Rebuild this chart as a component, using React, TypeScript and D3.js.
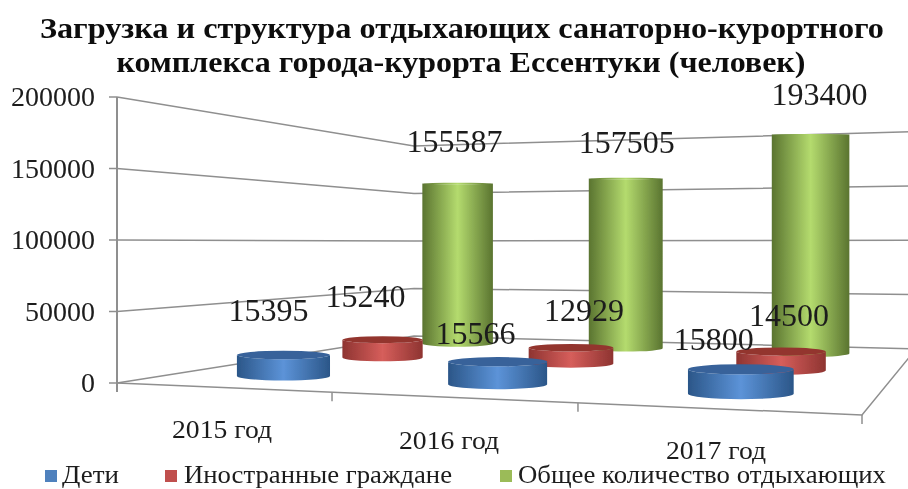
import React from "react";
import * as d3 from "d3";

const titleLines = ["Загрузка и структура отдыхающих санаторно-курортного", "комплекса города-курорта Ессентуки (человек)"];
const categories = ["2015 год", "2016 год", "2017 год"];
const seriesNames = ["Дети", "Иностранные граждане", "Общее количество отдыхающих"];
const children = [15395, 15566, 15800];
const foreigners = [15240, 12929, 14500];
const total = [155587, 157505, 193400];
const seriesValues = [children, foreigners, total];
const axisTicks = [0, 50000, 100000, 150000, 200000];

// ---- layout only ----
const W = 908, H = 489;
const floor = { fl: [117, 383], fr: [862, 415], br: [916, 349], bl: [414, 336] };
const axisPx = 286;
const horizonY = 120, tiltDiv = 2600;
const baseWidth = 98;
const palette = [
  { dark: "#2b5688", light: "#5c93d8", top: "#37629a", key: "#4f81bd" },
  { dark: "#8e3431", light: "#d65e5b", top: "#93352f", key: "#c0504d" },
  { dark: "#5a7430", light: "#b4db6e", top: null, key: "#9bbb59" },
];
// label centre, from the top of its cylinder
const labelNudge = [
  [[-15, -45], [-22, -29], [-27, -30]],
  [[-17, -44], [13, -38], [8, -37]],
  [[-3, -42], [1, -37], [9, -41]],
];
const catLabelPos = [[222, 430], [449, 441], [716, 451]];
const legendItems = [
  { sx: 45, tx: 62, tw: 57 },
  { sx: 165, tx: 184, tw: 268 },
  { sx: 500, tx: 518, tw: 368 },
];
const serif = "'Liberation Serif','Times New Roman',serif";

// homography: unit floor square -> screen
function makeProjection() {
  const [x0, y0] = floor.fl, [x1, y1] = floor.fr, [x2, y2] = floor.br, [x3, y3] = floor.bl;
  const dx1 = x1 - x2, dx2 = x3 - x2, sx = x0 - x1 + x2 - x3;
  const dy1 = y1 - y2, dy2 = y3 - y2, sy = y0 - y1 + y2 - y3;
  const den = dx1 * dy2 - dx2 * dy1;
  const g = (sx * dy2 - dx2 * sy) / den;
  const h = (dx1 * sy - sx * dy1) / den;
  const a = x1 - x0 + g * x1, b = x3 - x0 + h * x3;
  const d = y1 - y0 + g * y1, e = y3 - y0 + h * y3;
  return (u: number, v: number) => {
    const w = 1 + g * u + h * v;
    return { x: (a * u + b * v + x0) / w, y: (d * u + e * v + y0) / w, w };
  };
}
const project = makeProjection();
const valueHeight = d3.scaleLinear().domain([0, 200000]).range([0, axisPx]);
const uScale = d3.scaleBand<number>().domain([0, 1, 2]).range([0, 1]);
const vScale = d3.scaleBand<number>().domain([0, 1, 2]).range([0, 1]);
const heightAt = (value: number, w: number) => valueHeight(value) / w;

function wallPoint(u: number, v: number, value: number) {
  const p = project(u, v);
  return [p.x, p.y - heightAt(value, p.w)] as [number, number];
}
const lineGen = d3.line();

function Cylinder({ cat, ser }: { cat: number; ser: number }) {
  const value = seriesValues[ser][cat];
  const p = project(uScale(cat)! + uScale.bandwidth() / 2, vScale(ser)! + vScale.bandwidth() / 2);
  const rx = baseWidth / p.w / 2;
  const topY = p.y - heightAt(value, p.w);
  const ryB = (rx * (p.y - horizonY)) / tiltDiv;
  const ryT = (rx * (topY - horizonY)) / tiltDiv;
  const body = `M${p.x - rx},${topY} L${p.x - rx},${p.y} A${rx},${ryB} 0 0 0 ${p.x + rx},${p.y} L${p.x + rx},${topY} A${rx},${ryT} 0 0 1 ${p.x - rx},${topY} Z`;
  const col = palette[ser];
  return (
    <g>
      <path d={body} fill={`url(#grad${ser})`} />
      <ellipse cx={p.x} cy={topY} rx={rx} ry={Math.max(ryT, 0.5)} fill={col.top ?? `url(#grad${ser})`} />
    </g>
  );
}

function DataLabel({ cat, ser }: { cat: number; ser: number }) {
  const value = seriesValues[ser][cat];
  const p = project(uScale(cat)! + uScale.bandwidth() / 2, vScale(ser)! + vScale.bandwidth() / 2);
  const topY = p.y - heightAt(value, p.w);
  const [dx, dy] = labelNudge[ser][cat];
  return (
    <text x={p.x + dx} y={topY + dy + 11} textAnchor="middle" fontSize={32} fill="#1c1c1c" fontFamily={serif}>
      {value}
    </text>
  );
}

export default function App() {
  const gridColor = "#8f8f8f";
  const drawOrder: [number, number][] = [];
  for (let s = 2; s >= 0; s--) for (let c = 0; c < 3; c++) drawOrder.push([c, s]);
  return (
    <svg width={W} height={H} viewBox={`0 0 ${W} ${H}`} style={{ position: "absolute", left: 0, top: 0, background: "#fff" }}>
      <defs>
        {palette.map((c, i) => (
          <linearGradient key={i} id={`grad${i}`} x1="0" x2="1" y1="0" y2="0">
            <stop offset="0" stopColor={c.dark} />
            <stop offset="0.5" stopColor={c.light} />
            <stop offset="1" stopColor={c.dark} />
          </linearGradient>
        ))}
        <filter id="soft" x="-5%" y="-5%" width="110%" height="110%">
          <feGaussianBlur stdDeviation="0.45" />
        </filter>
      </defs>
      <g filter="url(#soft)">
        {titleLines.map((t, i) => (
          <text key={i} x={i === 0 ? 462 : 461} y={i === 0 ? 38 : 72} textAnchor="middle" fontSize={30} fontWeight="bold" fill="#111"
            fontFamily={serif} textLength={i === 0 ? 844 : 689} lengthAdjust="spacingAndGlyphs">{t}</text>
        ))}
        {axisTicks.map((t) => {
          const path = [wallPoint(0, 0, t), wallPoint(0, 1, t), wallPoint(1, 1, t)] as [number, number][];
          const [lx, ly] = path[0];
          return (
            <g key={t}>
              <path d={lineGen(path)!} fill="none" stroke={gridColor} strokeWidth={1.5} />
              <line x1={lx - 8} x2={lx} y1={ly} y2={ly} stroke={gridColor} strokeWidth={1.5} />
              <text x={95} y={ly + 9} textAnchor="end" fontSize={28} fill="#1c1c1c" fontFamily={serif}>{t}</text>
            </g>
          );
        })}
        <line x1={floor.fl[0]} x2={floor.fl[0]} y1={wallPoint(0, 0, 200000)[1]} y2={floor.fl[1] + 9} stroke={gridColor} strokeWidth={2} />
        <path d={lineGen([floor.fl, floor.fr, floor.br] as [number, number][])!} fill="none" stroke={gridColor} strokeWidth={1.5} />
        {[1, 2, 3].map((k) => {
          const p = project(k / 3, 0);
          return <line key={k} x1={p.x} x2={p.x} y1={p.y} y2={p.y + 9} stroke={gridColor} strokeWidth={1.5} />;
        })}
        {drawOrder.map(([c, s]) => <Cylinder key={`${c}-${s}`} cat={c} ser={s} />)}
        {drawOrder.map(([c, s]) => <DataLabel key={`${c}-${s}`} cat={c} ser={s} />)}
        {categories.map((c, i) => (
          <text key={c} x={catLabelPos[i][0]} y={catLabelPos[i][1] + 8} textAnchor="middle" fontSize={25} fill="#1c1c1c" fontFamily={serif}
            textLength={100} lengthAdjust="spacingAndGlyphs">{c}</text>
        ))}
        {seriesNames.map((n, i) => (
          <g key={n}>
            <rect x={legendItems[i].sx} y={470} width={12} height={12} fill={palette[i].key} />
            <text x={legendItems[i].tx} y={483} fontSize={25} fill="#1c1c1c" fontFamily={serif}
              textLength={legendItems[i].tw} lengthAdjust="spacingAndGlyphs">{n}</text>
          </g>
        ))}
      </g>
    </svg>
  );
}
